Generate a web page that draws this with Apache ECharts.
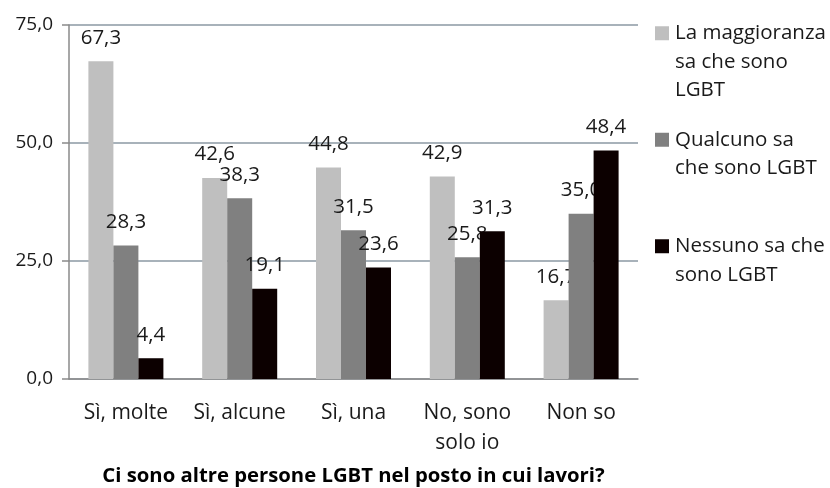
<!DOCTYPE html>
<html>
<head>
<meta charset="utf-8">
<script src="https://cdn.jsdelivr.net/npm/echarts@6/dist/echarts.min.js"></script>
<style>html,body{margin:0;padding:0;background:#fff}#c{width:830px;height:488px}</style>
</head>
<body>
<div id="c"></div>
<script>
const categories = ['Sì, molte', 'Sì, alcune', 'Sì, una', 'No, sono\nsolo io', 'Non so'];
const seriesNames = ['La maggioranza sa che sono LGBT', 'Qualcuno sa che sono LGBT', 'Nessuno sa che sono LGBT'];
const legendLines = [['La maggioranza', 'sa che sono', 'LGBT'], ['Qualcuno sa', 'che sono LGBT', ''], ['Nessuno sa che', 'sono LGBT']];
const maggioranza = [67.3, 42.6, 44.8, 42.9, 16.7];
const qualcuno = [28.3, 38.3, 31.5, 25.8, 35.0];
const nessuno = [4.4, 19.1, 23.6, 31.3, 48.4];
const yTicks = [0, 25, 50, 75];
const axisTitle = 'Ci sono altre persone LGBT nel posto in cui lavori?';
const colors = ['#bfbfbf', '#808080', '#0c0000'];

const FONT = '"Open Sans"';
const fmt = v => v.toFixed(1).replace('.', ',');
const chart = echarts.init(document.getElementById('c'));

const rich = { p: { width: 14 } };
colors.forEach((c, i) => { rich['s' + i] = { width: 14, height: 14, backgroundColor: c }; });
rich.t = { fontSize: 20.5, fontFamily: FONT, color: '#1a1a1a', padding: [0, 0, 0, 6], lineHeight: 28.5 };

const data = [maggioranza, qualcuno, nessuno];
chart.setOption({
  animation: false,
  textStyle: { fontFamily: FONT },
  grid: { left: 69, right: 192, top: 25, bottom: 109, outerBoundsMode: 'none', containLabel: false },
  legend: {
    orient: 'vertical',
    left: 650,
    top: 19,
    padding: 0,
    itemGap: 21,
    icon: 'none',
    itemWidth: 0,
    itemHeight: 0,
    data: seriesNames,
    formatter: function (name) {
      const i = seriesNames.indexOf(name);
      return legendLines[i].map((l, k) => (k === 0 ? '{s' + i + '|}' : '{p|}') + '{t|' + l + '}').join('\n');
    },
    textStyle: { fontFamily: FONT, fontSize: 20.5, lineHeight: 28.5, rich: rich }
  },
  xAxis: {
    type: 'category',
    data: categories,
    axisTick: { show: false },
    axisLine: { lineStyle: { color: '#8a8a8a', width: 1.5 } },
    axisLabel: { fontFamily: FONT, fontSize: 21, color: '#1a1a1a', margin: 19, lineHeight: 30, interval: 0 },
    name: axisTitle,
    nameLocation: 'middle',
    nameGap: 87,
    nameTextStyle: { fontFamily: FONT, fontSize: 20.3, fontWeight: 'bold', color: '#000' }
  },
  yAxis: {
    type: 'value',
    min: yTicks[0],
    max: yTicks[yTicks.length - 1],
    interval: yTicks[1] - yTicks[0],
    axisLine: { show: true, lineStyle: { color: '#8a8a8a', width: 1.5 } },
    axisTick: { show: true, length: 7, lineStyle: { color: '#8a8a8a', width: 1.5 } },
    axisLabel: { fontFamily: FONT, fontSize: 19, color: '#1a1a1a', margin: 16, formatter: fmt },
    splitLine: { lineStyle: { color: '#8b99a3', width: 1.5 } }
  },
  series: data.map((d, i) => ({
    name: seriesNames[i],
    type: 'bar',
    data: d,
    z: 2 + i,
    barWidth: 25,
    barGap: '0%',
    itemStyle: { color: colors[i] },
    label: {
      show: true,
      position: 'top',
      distance: 13,
      fontFamily: FONT,
      fontSize: 20.5,
      color: '#1a1a1a',
      formatter: p => fmt(p.value)
    }
  }))
});
</script>
</body>
</html>
